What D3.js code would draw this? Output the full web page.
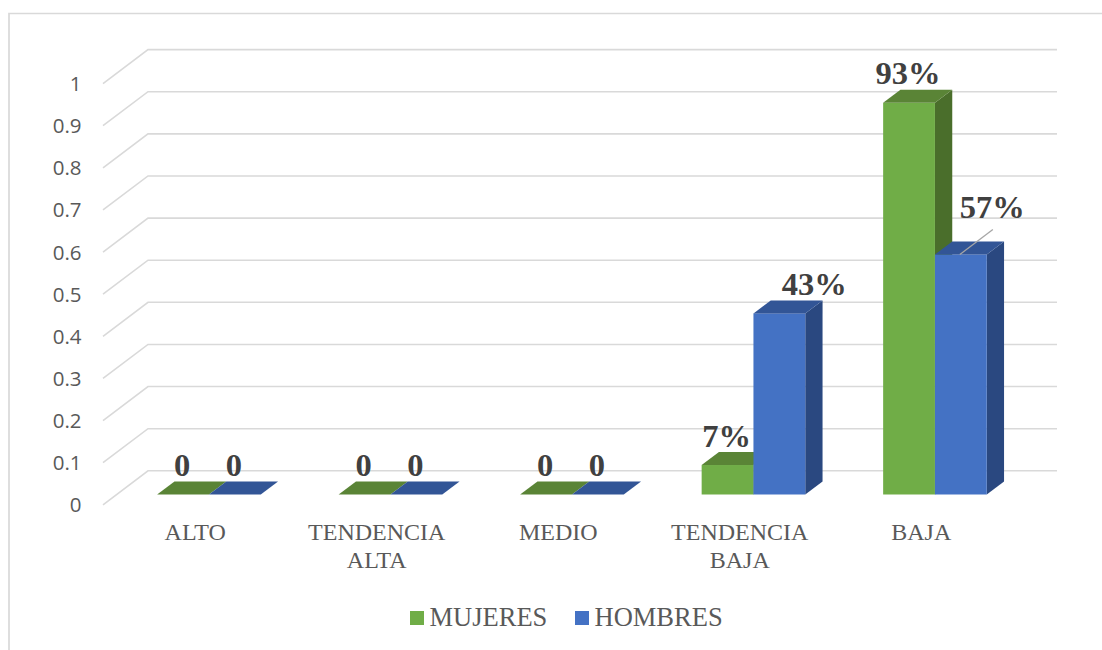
<!DOCTYPE html>
<html><head><meta charset="utf-8">
<script src="https://cdn.jsdelivr.net/npm/d3@7"></script>
<style>html,body{margin:0;background:#fff}svg{display:block}</style>
</head><body><svg id="c" width="1102" height="650"></svg>
<script>
const categories = [["ALTO"],["TENDENCIA","ALTA"],["MEDIO"],["TENDENCIA","BAJA"],["BAJA"]];
const seriesNames = ["MUJERES","HOMBRES"];
const mujeres = [0,0,0,0.07,0.93];
const hombres = [0,0,0,0.43,0.57];
const tickValues = [0,0.1,0.2,0.3,0.4,0.5,0.6,0.7,0.8,0.9,1];

const svg=d3.select("#c");
const serif="'Liberation Serif',serif";
const depthX=17.3,depthY=13;
const barW=51.8;
const y=d3.scaleLinear().domain([0,1]).range([494.5,73.3]);
const x0=d3.scaleBand().domain(d3.range(5)).range([118.2,1025.7]);
const x1=d3.scaleBand().domain([0,1]).range([x0.bandwidth()/2-barW,x0.bandwidth()/2+barW]);
const palette=[{front:"#70ad47",top:"#5a8436",side:"#4a6e2b"},{front:"#4472c4",top:"#325596",side:"#2a4880"}];

// frame
svg.append("path").attr("d","M9 650V13.5H1102").attr("fill","none").attr("stroke","#d9d9d9").attr("stroke-width",1.7);

// gridlines
const g=svg.append("g");
const wallShift=-23.7, floorX=103, wallX=148, wallEnd=1057;
tickValues.forEach(v=>{
  const yb=y(v)+wallShift;
  g.append("path").attr("d",`M${floorX} ${yb+34}L${wallX} ${yb}H${wallEnd}`)
   .attr("fill","none").attr("stroke","#d9d9d9").attr("stroke-width",1.6);
});
// y tick labels
svg.append("g").selectAll("text").data(tickValues).join("text")
  .attr("x",81.5).attr("y",d=>y(d)+wallShift+34+7.5)
  .attr("text-anchor","end").attr("font-family","'Open Sans',sans-serif").attr("font-size",20.5).attr("fill","#595959")
  .text(d=>d);

// bars
const bars=svg.append("g");
[mujeres,hombres].forEach((vals,s)=>{
  const c=palette[s];
  vals.forEach((v,i)=>{
    const l=x0(i)+x1(s), r=l+x1.bandwidth(), t=y(v), b=y(0);
    if(v>0){
      bars.append("path").attr("fill",c.side).attr("d",`M${r} ${t}L${r+depthX} ${t-depthY}V${b-depthY}L${r} ${b}Z`);
      bars.append("rect").attr("fill",c.front).attr("x",l).attr("y",t).attr("width",r-l).attr("height",b-t);
    }
    bars.append("path").attr("fill",c.top).attr("d",`M${l} ${t}L${l+depthX} ${t-depthY}H${r+depthX}L${r} ${t}Z`);
  });
});

// data labels
const fmt=v=>v===0?"0":Math.round(v*100)+"%";
const labels=svg.append("g").attr("font-family",serif).attr("font-weight","bold").attr("font-size",32.5).attr("fill","#404040").attr("text-anchor","middle");
[mujeres,hombres].forEach((vals,s)=>{
  vals.forEach((v,i)=>{
    const cx=x0(i)+x1(s)+x1.bandwidth()/2;
    let dx=-1,dy=-18.5;
    if(s===1&&i===3) dx=35;
    if(s===1&&i===4){dx=31.5;dy=-36;}
    labels.append("text").attr("x",cx+dx).attr("y",y(v)+dy).text(fmt(v));
  });
});
// leader line for HOMBRES / BAJA
{
  const lx=x0(4)+x1(1)+x1.bandwidth()/2, ly=y(hombres[4]);
  svg.append("line").attr("x1",lx-1).attr("y1",ly).attr("x2",lx+32).attr("y2",ly-25).attr("stroke","#a6a6a6").attr("stroke-width",1.3);
}

// category labels
const cat=svg.append("g").attr("font-family",serif).attr("font-size",24).attr("fill","#595959").attr("text-anchor","middle");
categories.forEach((lines,i)=>{
  const cx=x0(i)+x0.bandwidth()/2-13.7;
  lines.forEach((t,k)=>cat.append("text").attr("x",cx).attr("y",540+k*28).text(t));
});

// legend
const legX=[410,575];
const legend=svg.append("g");
seriesNames.forEach((n,s)=>{
  legend.append("rect").attr("x",legX[s]).attr("y",611).attr("width",14).attr("height",14).attr("fill",palette[s].front);
  legend.append("text").attr("x",legX[s]+19.5).attr("y",626).attr("font-family",serif).attr("font-size",26.5).attr("fill","#595959").text(n);
});
</script></body></html>
